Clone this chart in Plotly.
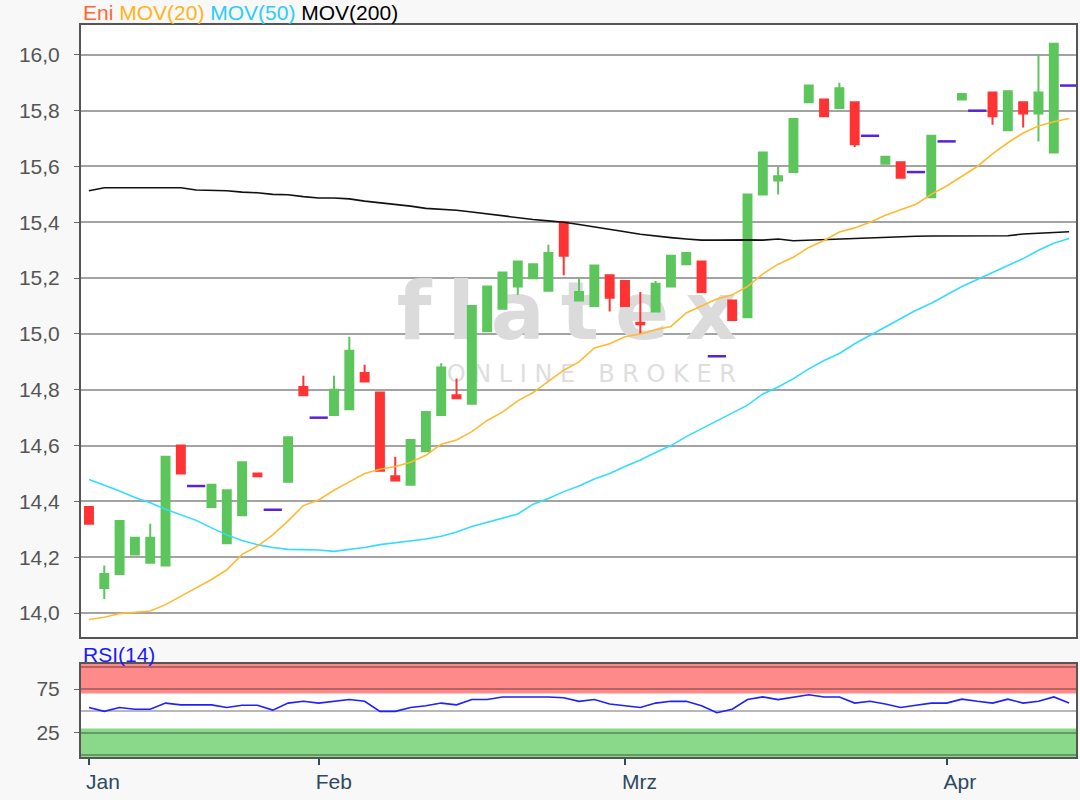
import plotly.graph_objects as go
from plotly.subplots import make_subplots

# Handelstage (Index) – Eni, Jan bis Apr
days = list(range(65))
month_ticks = [0, 15, 35, 56]
month_labels = ['Jan', 'Feb', 'Mrz', 'Apr']

opens = [14.38, 14.09, 14.14, 14.21, 14.18, 14.17, 14.60, 14.455, 14.38, 14.25,
         14.35, 14.50, 14.37, 14.47, 14.81, 14.70, 14.71, 14.73, 14.86, 14.79,
         14.49, 14.46, 14.58, 14.71, 14.78, 14.75, 15.01, 15.09, 15.17, 15.20,
         15.155, 15.40, 15.12, 15.10, 15.21, 15.19, 15.04, 15.08, 15.17, 15.25,
         15.26, 14.92, 15.12, 15.06, 15.50, 15.55, 15.58, 15.83, 15.84, 15.81,
         15.83, 15.71, 15.61, 15.615, 15.58, 15.49, 15.69, 15.84, 15.80, 15.865,
         15.73, 15.83, 15.79, 15.65, 15.89]
highs = [14.38, 14.17, 14.33, 14.27, 14.32, 14.56, 14.60, 14.455, 14.46, 14.44,
         14.54, 14.50, 14.37, 14.63, 14.85, 14.70, 14.85, 14.99, 14.89, 14.79,
         14.56, 14.62, 14.72, 14.895, 14.84, 15.10, 15.17, 15.22, 15.26, 15.25,
         15.32, 15.40, 15.20, 15.245, 15.21, 15.19, 15.15, 15.19, 15.28, 15.29,
         15.26, 14.92, 15.12, 15.50, 15.65, 15.60, 15.77, 15.89, 15.84, 15.90,
         15.83, 15.71, 15.635, 15.615, 15.58, 15.71, 15.69, 15.86, 15.80, 15.865,
         15.87, 15.83, 16.00, 16.04, 15.89]
lows = [14.32, 14.05, 14.14, 14.21, 14.18, 14.17, 14.50, 14.455, 14.38, 14.25,
        14.35, 14.49, 14.37, 14.47, 14.78, 14.70, 14.71, 14.73, 14.83, 14.51,
        14.475, 14.46, 14.58, 14.71, 14.77, 14.75, 15.01, 15.09, 15.14, 15.20,
        15.155, 15.21, 15.12, 15.10, 15.08, 15.10, 15.00, 15.08, 15.17, 15.25,
        15.15, 14.92, 15.05, 15.06, 15.50, 15.50, 15.58, 15.83, 15.78, 15.81,
        15.67, 15.71, 15.61, 15.56, 15.58, 15.49, 15.69, 15.84, 15.80, 15.75,
        15.73, 15.74, 15.69, 15.65, 15.89]
closes = [14.32, 14.14, 14.33, 14.27, 14.27, 14.56, 14.50, 14.455, 14.46, 14.44,
          14.54, 14.49, 14.37, 14.63, 14.78, 14.70, 14.80, 14.94, 14.83, 14.51,
          14.475, 14.62, 14.72, 14.88, 14.77, 15.10, 15.17, 15.22, 15.26, 15.25,
          15.29, 15.28, 15.15, 15.245, 15.13, 15.10, 15.035, 15.18, 15.28, 15.29,
          15.15, 14.92, 15.05, 15.50, 15.65, 15.565, 15.77, 15.89, 15.78, 15.88,
          15.68, 15.71, 15.635, 15.56, 15.58, 15.71, 15.69, 15.86, 15.80, 15.78,
          15.87, 15.79, 15.865, 16.04, 15.89]

mov20 = [13.977, 13.985, 13.998, 14.003, 14.007, 14.03, 14.06, 14.09, 14.12, 14.155,
         14.21, 14.24, 14.28, 14.33, 14.385, 14.405, 14.44, 14.47, 14.50, 14.515,
         14.525, 14.54, 14.565, 14.605, 14.62, 14.65, 14.69, 14.72, 14.76, 14.79,
         14.83, 14.87, 14.90, 14.95, 14.965, 14.99, 15.0, 15.015, 15.027, 15.075,
         15.10, 15.125, 15.14, 15.17, 15.215, 15.25, 15.275, 15.31, 15.335, 15.365,
         15.38, 15.40, 15.425, 15.445, 15.465, 15.50, 15.53, 15.565, 15.60, 15.645,
         15.685, 15.72, 15.745, 15.76, 15.772]
mov50 = [14.478, 14.458, 14.437, 14.414, 14.395, 14.372, 14.352, 14.332, 14.305, 14.28,
         14.26, 14.245, 14.235, 14.228, 14.227, 14.226, 14.221, 14.228, 14.235, 14.245,
         14.252, 14.257, 14.265, 14.275, 14.29, 14.31, 14.325, 14.34, 14.355, 14.39,
         14.41, 14.435, 14.455, 14.48, 14.50, 14.525, 14.548, 14.575, 14.60, 14.632,
         14.66, 14.69, 14.715, 14.745, 14.785, 14.81, 14.84, 14.875, 14.905, 14.93,
         14.965, 14.995, 15.028, 15.055, 15.085, 15.11, 15.14, 15.17, 15.195, 15.22,
         15.245, 15.27, 15.30, 15.325, 15.342]
mov200 = [15.513, 15.524, 15.524, 15.524, 15.524, 15.524, 15.524, 15.516, 15.515, 15.513,
          15.508, 15.506, 15.50, 15.499, 15.492, 15.487, 15.487, 15.484, 15.476, 15.47,
          15.465, 15.458, 15.45, 15.447, 15.443, 15.437, 15.43, 15.425, 15.418, 15.41,
          15.405, 15.40, 15.392, 15.384, 15.375, 15.366, 15.357, 15.35, 15.345, 15.34,
          15.336, 15.336, 15.337, 15.337, 15.336, 15.34, 15.334, 15.336, 15.34, 15.34,
          15.343, 15.345, 15.347, 15.35, 15.35, 15.351, 15.351, 15.351, 15.351, 15.351,
          15.352, 15.358, 15.36, 15.364, 15.366]
rsi14 = [54, 49.6, 54, 52, 52, 59, 57, 57, 57, 54,
         56.5, 56.5, 51, 59, 61, 59, 61, 63, 61, 49.6,
         49.6, 54, 56, 59, 57, 63, 63, 66, 66, 66,
         66, 65, 61, 63, 58, 56, 54, 59, 61, 61,
         56, 48, 52, 63, 66, 63, 66, 68.5, 66, 66,
         59, 61, 58, 54, 56.5, 59, 59, 63.5, 61, 59,
         63.5, 59, 61, 66, 59]

GREEN = '#5cc65c'
RED = '#ff3333'
FLAT = '#5a22d6'
PRICE_RANGE = [13.914, 16.107]

# Kerzen mit Körper und flache Kerzen (Open = Close) trennen
body = [i for i in days if opens[i] != closes[i]]
flat = [i for i in days if opens[i] == closes[i]]

fig = make_subplots(rows=2, cols=1, shared_xaxes=True)

# Wasserzeichen auf der Basisachse, damit Kerzen darüber liegen
fig.add_trace(go.Scatter(
    x=[31.2], y=[15.055], mode='text', text=['f\u2009l\u2009a\u2009t\u2009e\u2009x'],
    textfont=dict(family='DejaVu Sans', size=80, color='#dbdbdb', weight='bold'),
    showlegend=False, hoverinfo='skip'), row=1, col=1)
fig.add_trace(go.Scatter(
    x=[32.8], y=[14.85], mode='text', text=['O N L I N E   B R O K E R'],
    textfont=dict(family='DejaVu Sans', size=24, color='#dedede'),
    showlegend=False, hoverinfo='skip'), row=1, col=1)

# Kurs und Durchschnitte auf einer überlagerten Achse
fig.add_trace(go.Scatter(x=days, y=mov200, mode='lines', xaxis='x', yaxis='y3',
                         line=dict(color='#111111', width=1.6),
                         showlegend=False, hoverinfo='skip'))
fig.add_trace(go.Scatter(x=days, y=mov50, mode='lines', xaxis='x', yaxis='y3',
                         line=dict(color='#33dcff', width=1.6),
                         showlegend=False, hoverinfo='skip'))

fig.add_trace(go.Candlestick(
    x=body, xaxis='x', yaxis='y3',
    open=[opens[i] for i in body], high=[highs[i] for i in body],
    low=[lows[i] for i in body], close=[closes[i] for i in body],
    increasing=dict(line=dict(color=GREEN, width=2), fillcolor=GREEN),
    decreasing=dict(line=dict(color=RED, width=2), fillcolor=RED),
    whiskerwidth=0, showlegend=False))

fig.add_trace(go.Scatter(x=days, y=mov20, mode='lines', xaxis='x', yaxis='y3',
                         line=dict(color='#ffb933', width=1.6),
                         showlegend=False, hoverinfo='skip'))

fig.add_trace(go.Scatter(
    x=flat, y=[closes[i] for i in flat], mode='markers', xaxis='x', yaxis='y3',
    marker=dict(symbol='line-ew', size=13, line=dict(color=FLAT, width=2.5)),
    showlegend=False))

# RSI
fig.add_trace(go.Scatter(x=days, y=rsi14, mode='lines',
                         line=dict(color='#1f1fff', width=1.6),
                         showlegend=False), row=2, col=1)

fig.update_layout(
    width=1080, height=800,
    margin=dict(l=81, r=2, t=25, b=43),
    paper_bgcolor='#f8f8f8',
    plot_bgcolor='#ffffff',
    separators=',.',
    font=dict(family='Liberation Sans, Arial, sans-serif', size=21, color='#555555'),
    boxgap=0.26,
    yaxis3=dict(overlaying='y', anchor='x', range=PRICE_RANGE, visible=False),
    shapes=[
        dict(type='rect', xref='x2 domain', yref='y2', x0=0, x1=1, y0=70, y1=103.4,
             fillcolor='#ff8a8a', line=dict(width=0), layer='below'),
        dict(type='rect', xref='x2 domain', yref='y2', x0=0, x1=1, y0=-2.3, y1=30,
             fillcolor='#8ad88a', line=dict(width=0), layer='below'),
    ],
    annotations=[
        dict(xref='paper', yref='paper', x=0, y=1.0165, xanchor='left', yanchor='middle',
             showarrow=False, font=dict(size=21),
             text="<span style='color:#ff6633'>Eni</span> "
                  "<span style='color:#ffb31a'>MOV(20)</span> "
                  "<span style='color:#2ccdf5'>MOV(50)</span> "
                  "<span style='color:#000000'>MOV(200)</span>"),
        dict(xref='paper', yref='paper', x=0, y=0.1405, xanchor='left', yanchor='middle',
             showarrow=False, font=dict(size=21, color='#1a1aff'), text='RSI(14)'),
    ],
)

xrange = [-0.52, 64.45]
fig.update_xaxes(range=xrange, showgrid=False, zeroline=False,
                 showline=True, linecolor='#555555', linewidth=2, mirror=True,
                 rangeslider_visible=False)
fig.update_xaxes(showticklabels=False, ticks='', row=1, col=1)
fig.update_xaxes(tickvals=month_ticks, ticktext=month_labels, ticks='outside',
                 ticklen=6, tickwidth=2, tickcolor='#2e4a62',
                 ticklabelposition='outside right', ticklabelshift=-5,
                 ticklabelstandoff=5,
                 tickfont=dict(size=21, color='#2e4a62'), row=2, col=1)

fig.update_yaxes(domain=[0.1639, 1], range=PRICE_RANGE,
                 tickvals=[14.0, 14.2, 14.4, 14.6, 14.8, 15.0, 15.2, 15.4, 15.6, 15.8, 16.0],
                 tickformat='.1f', ticks='outside', ticklen=5, tickcolor='#666666',
                 ticklabelstandoff=10,
                 showgrid=True, gridcolor='#a3a3a3', gridwidth=1.5, zeroline=False,
                 showline=True, linecolor='#555555', linewidth=2, mirror=True,
                 row=1, col=1)
fig.update_yaxes(domain=[0, 0.127], range=[-2.3, 103.4],
                 tickvals=[25, 75], ticks='outside', ticklen=5, tickcolor='#666666',
                 ticklabelstandoff=10,
                 showgrid=True, gridcolor='rgba(0,0,0,0.28)', gridwidth=1.5,
                 minor=dict(tickvals=[0, 50, 100], showgrid=True,
                            gridcolor='rgba(0,0,0,0.28)', gridwidth=1.5, ticks=''),
                 zeroline=False,
                 showline=True, linecolor='#555555', linewidth=2, mirror=True,
                 row=2, col=1)

fig.write_html("out.html", config={'displayModeBar': False},
               post_script="document.body.style.margin='0';")
